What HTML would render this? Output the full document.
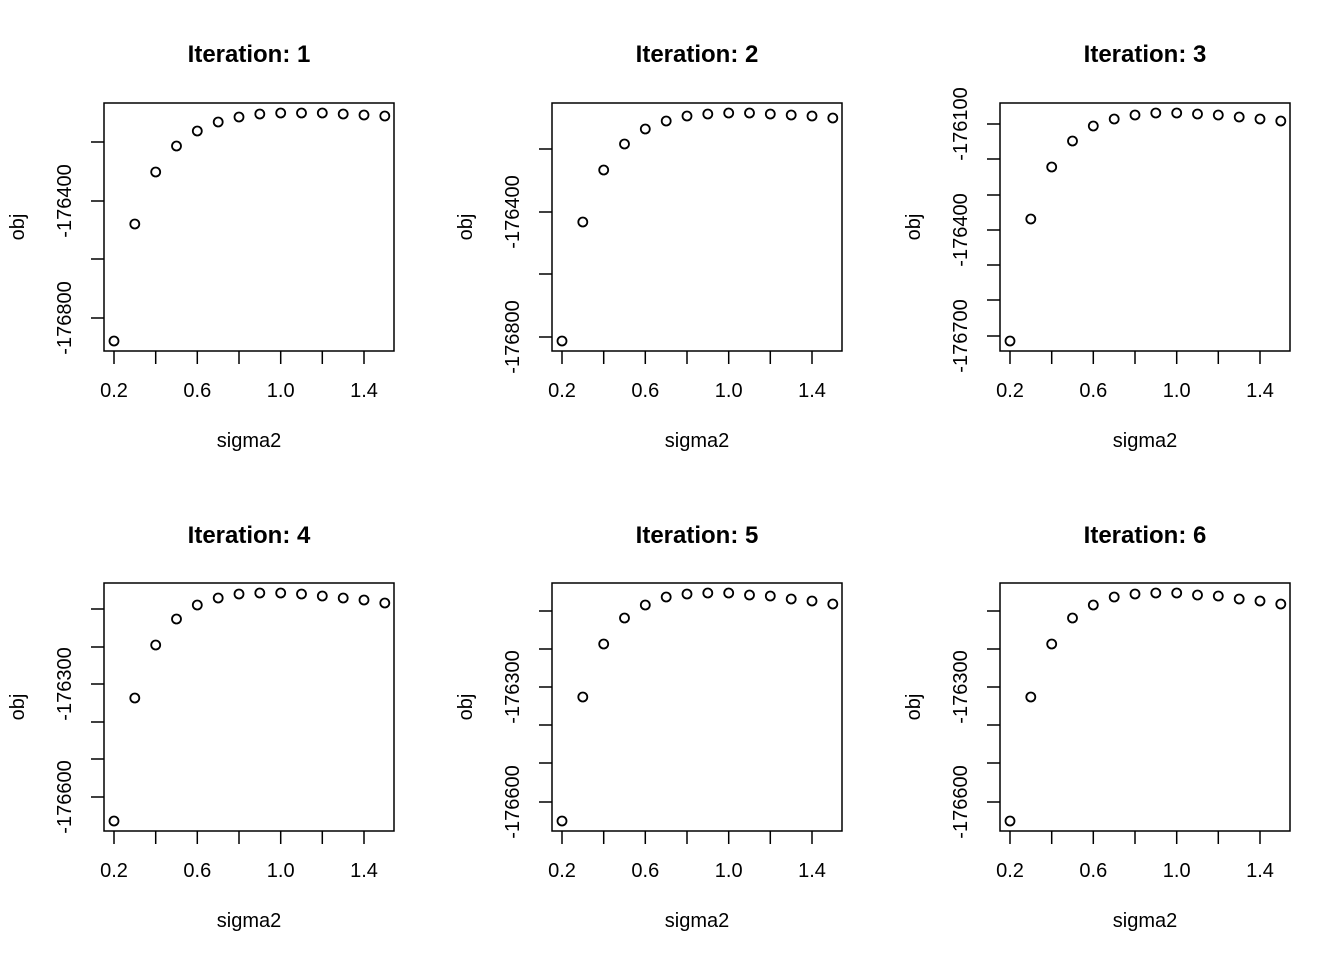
<!DOCTYPE html>
<html><head><meta charset="utf-8"><style>
html,body{margin:0;padding:0;background:#fff;}
svg{display:block;}
text{font-family:"Liberation Sans",Arial,sans-serif;fill:#000;}
.t{font-size:24px;font-weight:bold;text-anchor:middle;}
.a{font-size:20px;text-anchor:middle;}
circle{fill:none;stroke:#000;stroke-width:1.8;}
.ln{stroke:#000;stroke-width:1.5;fill:none;}
</style></head><body>
<svg width="1344" height="960" viewBox="0 0 1344 960" xmlns="http://www.w3.org/2000/svg">
<defs>
<g id="frame">
<rect class="ln" x="104" y="103" width="290" height="248"/>
<path class="ln" d="M114 351V364M155.7 351V364M197.3 351V364M239 351V364M280.7 351V364M322.3 351V364M364 351V364"/>
<text class="a" x="114" y="397">0.2</text>
<text class="a" x="197.3" y="397">0.6</text>
<text class="a" x="280.7" y="397">1.0</text>
<text class="a" x="364" y="397">1.4</text>
<text class="a" x="249" y="447">sigma2</text>
<text class="a" transform="translate(24,227) rotate(-90)">obj</text>
</g>
</defs>

<g>
<use href="#frame"/>
<text class="t" x="249" y="62">Iteration: 1</text>
<path class="ln" d="M91 142H104M91 201H104M91 259H104M91 318H104"/>
<text class="a" transform="translate(71,201) rotate(-90)">-176400</text>
<text class="a" transform="translate(71,318) rotate(-90)">-176800</text>
<circle cx="114" cy="341" r="4.5"/><circle cx="134.8" cy="224" r="4.5"/><circle cx="155.7" cy="172" r="4.5"/><circle cx="176.5" cy="146" r="4.5"/><circle cx="197.3" cy="131" r="4.5"/><circle cx="218.2" cy="122" r="4.5"/><circle cx="239" cy="117" r="4.5"/><circle cx="259.8" cy="114" r="4.5"/><circle cx="280.7" cy="113" r="4.5"/><circle cx="301.5" cy="113" r="4.5"/><circle cx="322.3" cy="113" r="4.5"/><circle cx="343.2" cy="114" r="4.5"/><circle cx="364" cy="115" r="4.5"/><circle cx="384.8" cy="116" r="4.5"/>
</g>

<g transform="translate(448,0)">
<use href="#frame"/>
<text class="t" x="249" y="62">Iteration: 2</text>
<path class="ln" d="M91 149H104M91 212H104M91 274H104M91 337H104"/>
<text class="a" transform="translate(71,212) rotate(-90)">-176400</text>
<text class="a" transform="translate(71,337) rotate(-90)">-176800</text>
<circle cx="114" cy="341" r="4.5"/><circle cx="134.8" cy="222" r="4.5"/><circle cx="155.7" cy="170" r="4.5"/><circle cx="176.5" cy="144" r="4.5"/><circle cx="197.3" cy="129" r="4.5"/><circle cx="218.2" cy="121" r="4.5"/><circle cx="239" cy="116" r="4.5"/><circle cx="259.8" cy="114" r="4.5"/><circle cx="280.7" cy="113" r="4.5"/><circle cx="301.5" cy="113" r="4.5"/><circle cx="322.3" cy="114" r="4.5"/><circle cx="343.2" cy="115" r="4.5"/><circle cx="364" cy="116" r="4.5"/><circle cx="384.8" cy="118" r="4.5"/>
</g>

<g transform="translate(896,0)">
<use href="#frame"/>
<text class="t" x="249" y="62">Iteration: 3</text>
<path class="ln" d="M91 124H104M91 159H104M91 195H104M91 230H104M91 265H104M91 300H104M91 336H104"/>
<text class="a" transform="translate(71,124) rotate(-90)">-176100</text>
<text class="a" transform="translate(71,230) rotate(-90)">-176400</text>
<text class="a" transform="translate(71,336) rotate(-90)">-176700</text>
<circle cx="114" cy="341" r="4.5"/><circle cx="134.8" cy="219" r="4.5"/><circle cx="155.7" cy="167" r="4.5"/><circle cx="176.5" cy="141" r="4.5"/><circle cx="197.3" cy="126" r="4.5"/><circle cx="218.2" cy="119" r="4.5"/><circle cx="239" cy="115" r="4.5"/><circle cx="259.8" cy="113" r="4.5"/><circle cx="280.7" cy="113" r="4.5"/><circle cx="301.5" cy="114" r="4.5"/><circle cx="322.3" cy="115" r="4.5"/><circle cx="343.2" cy="117" r="4.5"/><circle cx="364" cy="119" r="4.5"/><circle cx="384.8" cy="121" r="4.5"/>
</g>

<g transform="translate(0,480)">
<use href="#frame"/>
<text class="t" x="249" y="63">Iteration: 4</text>
<path class="ln" d="M91 129H104M91 167H104M91 204H104M91 242H104M91 279H104M91 317H104"/>
<text class="a" transform="translate(71,204) rotate(-90)">-176300</text>
<text class="a" transform="translate(71,317) rotate(-90)">-176600</text>
<circle cx="114" cy="341" r="4.5"/><circle cx="134.8" cy="218" r="4.5"/><circle cx="155.7" cy="165" r="4.5"/><circle cx="176.5" cy="139" r="4.5"/><circle cx="197.3" cy="125" r="4.5"/><circle cx="218.2" cy="118" r="4.5"/><circle cx="239" cy="114" r="4.5"/><circle cx="259.8" cy="113" r="4.5"/><circle cx="280.7" cy="113" r="4.5"/><circle cx="301.5" cy="114" r="4.5"/><circle cx="322.3" cy="116" r="4.5"/><circle cx="343.2" cy="118" r="4.5"/><circle cx="364" cy="120" r="4.5"/><circle cx="384.8" cy="123" r="4.5"/>
</g>

<g transform="translate(448,480)">
<use href="#frame"/>
<text class="t" x="249" y="63">Iteration: 5</text>
<path class="ln" d="M91 131H104M91 169H104M91 207H104M91 245H104M91 283H104M91 322H104"/>
<text class="a" transform="translate(71,207) rotate(-90)">-176300</text>
<text class="a" transform="translate(71,322) rotate(-90)">-176600</text>
<circle cx="114" cy="341" r="4.5"/><circle cx="134.8" cy="217" r="4.5"/><circle cx="155.7" cy="164" r="4.5"/><circle cx="176.5" cy="138" r="4.5"/><circle cx="197.3" cy="125" r="4.5"/><circle cx="218.2" cy="117" r="4.5"/><circle cx="239" cy="114" r="4.5"/><circle cx="259.8" cy="113" r="4.5"/><circle cx="280.7" cy="113" r="4.5"/><circle cx="301.5" cy="115" r="4.5"/><circle cx="322.3" cy="116" r="4.5"/><circle cx="343.2" cy="119" r="4.5"/><circle cx="364" cy="121" r="4.5"/><circle cx="384.8" cy="124" r="4.5"/>
</g>

<g transform="translate(896,480)">
<use href="#frame"/>
<text class="t" x="249" y="63">Iteration: 6</text>
<path class="ln" d="M91 131H104M91 169H104M91 207H104M91 245H104M91 283H104M91 322H104"/>
<text class="a" transform="translate(71,207) rotate(-90)">-176300</text>
<text class="a" transform="translate(71,322) rotate(-90)">-176600</text>
<circle cx="114" cy="341" r="4.5"/><circle cx="134.8" cy="217" r="4.5"/><circle cx="155.7" cy="164" r="4.5"/><circle cx="176.5" cy="138" r="4.5"/><circle cx="197.3" cy="125" r="4.5"/><circle cx="218.2" cy="117" r="4.5"/><circle cx="239" cy="114" r="4.5"/><circle cx="259.8" cy="113" r="4.5"/><circle cx="280.7" cy="113" r="4.5"/><circle cx="301.5" cy="115" r="4.5"/><circle cx="322.3" cy="116" r="4.5"/><circle cx="343.2" cy="119" r="4.5"/><circle cx="364" cy="121" r="4.5"/><circle cx="384.8" cy="124" r="4.5"/>
</g>
</svg>
</body></html>
